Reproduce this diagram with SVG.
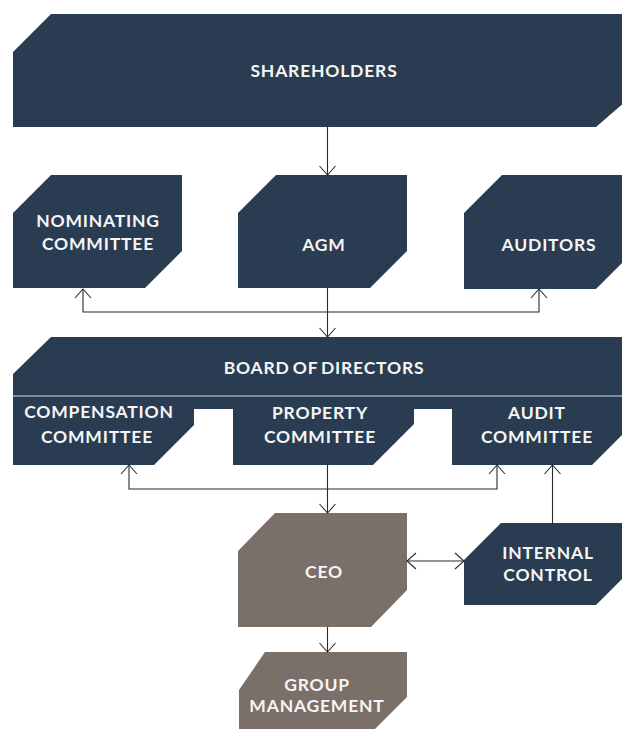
<svg xmlns="http://www.w3.org/2000/svg" width="622" height="729" viewBox="0 0 622 729">
<defs>
<style>
.n{fill:#293c51}
.t{fill:#7b6f6a}
.lbl{font-family:Lato,"Liberation Sans",sans-serif;font-weight:700;font-size:17.5px;fill:#f5f5f5;text-anchor:middle;letter-spacing:0.8px}
.c{fill:none;stroke:#2b2b2b;stroke-width:1.1}
</style>
<marker id="ah" viewBox="0 0 20 20" refX="10" refY="10" markerWidth="20" markerHeight="20" markerUnits="userSpaceOnUse" orient="auto-start-reverse">
<path d="M1,2 L10,10 L1,18" fill="none" stroke="#2b2b2b" stroke-width="1.1"/>
</marker>
</defs>
<rect width="622" height="729" fill="#ffffff"/>

<g id="shareholders">
<path class="n" d="M13,52 L51,14 L640,14 L640,89 L596,127 L13,127 Z"/>
<text class="lbl" x="324" y="77">SHAREHOLDERS</text>
</g>

<g id="nominating">
<path class="n" d="M13,213 L51,175 L182,175 L182,251 L145,288 L13,288 Z"/>
<text class="lbl" x="98" y="227">NOMINATING</text>
<text class="lbl" x="98" y="250">COMMITTEE</text>
</g>

<g id="agm">
<path class="n" d="M238,213 L276,175 L407,175 L407,251 L370,288 L238,288 Z"/>
<text class="lbl" x="324" y="251">AGM</text>
</g>

<g id="auditors">
<path class="n" d="M464,213 L502,175 L640,175 L640,245 L596,289 L464,289 Z"/>
<text class="lbl" x="549" y="251">AUDITORS</text>
</g>

<g id="board">
<path class="n" d="M13,374 L51,337 L640,337 L640,409 L13,409 Z"/>
<line x1="13" y1="396" x2="622" y2="396" stroke="#d3d9df" stroke-width="1.2"/>
<text class="lbl" x="324" y="374" word-spacing="-2">BOARD OF DIRECTORS</text>
</g>

<g id="compensation">
<path class="n" d="M13,408 L194,408 L194,425 L154,465 L13,465 Z"/>
<text class="lbl" x="99" y="418">COMPENSATION</text>
<text class="lbl" x="97" y="443">COMMITTEE</text>
</g>

<g id="property">
<path class="n" d="M233,408 L414,408 L414,424 L373,465 L233,465 Z"/>
<text class="lbl" x="320" y="419">PROPERTY</text>
<text class="lbl" x="320" y="443">COMMITTEE</text>
</g>

<g id="audit">
<path class="n" d="M452,408 L640,408 L640,417 L592,465 L452,465 Z"/>
<text class="lbl" x="537" y="419">AUDIT</text>
<text class="lbl" x="537" y="443">COMMITTEE</text>
</g>

<g id="ceo">
<path class="t" d="M238,551 L275,513 L407,513 L407,590 L371,627 L238,627 Z"/>
<text class="lbl" x="324" y="578">CEO</text>
</g>

<g id="internal-control">
<path class="n" d="M464,560 L501,523 L640,523 L640,561 L596,605 L464,605 Z"/>
<text class="lbl" x="548" y="559">INTERNAL</text>
<text class="lbl" x="548" y="581">CONTROL</text>
</g>

<g id="group-management">
<path class="t" d="M239,690 L265,652 L407,652 L407,697 L375,729 L239,729 Z"/>
<text class="lbl" x="317" y="691">GROUP</text>
<text class="lbl" x="317" y="712">MANAGEMENT</text>
</g>

<g id="connectors">
<line class="c" x1="327.5" y1="127" x2="327.5" y2="175" marker-end="url(#ah)"/>
<line class="c" x1="327.5" y1="288" x2="327.5" y2="337" marker-end="url(#ah)"/>
<polyline class="c" points="83,289 83,312 539,312 539,289" marker-start="url(#ah)" marker-end="url(#ah)"/>
<polyline class="c" points="129,465 129,489 497,489 497,465" marker-start="url(#ah)" marker-end="url(#ah)"/>
<line class="c" x1="327.5" y1="465" x2="327.5" y2="513" marker-end="url(#ah)"/>
<line class="c" x1="552.5" y1="523" x2="552.5" y2="465" marker-end="url(#ah)"/>
<line class="c" x1="407" y1="561" x2="464" y2="561" marker-start="url(#ah)" marker-end="url(#ah)"/>
<line class="c" x1="327.5" y1="627" x2="327.5" y2="652" marker-end="url(#ah)"/>
</g>
</svg>
